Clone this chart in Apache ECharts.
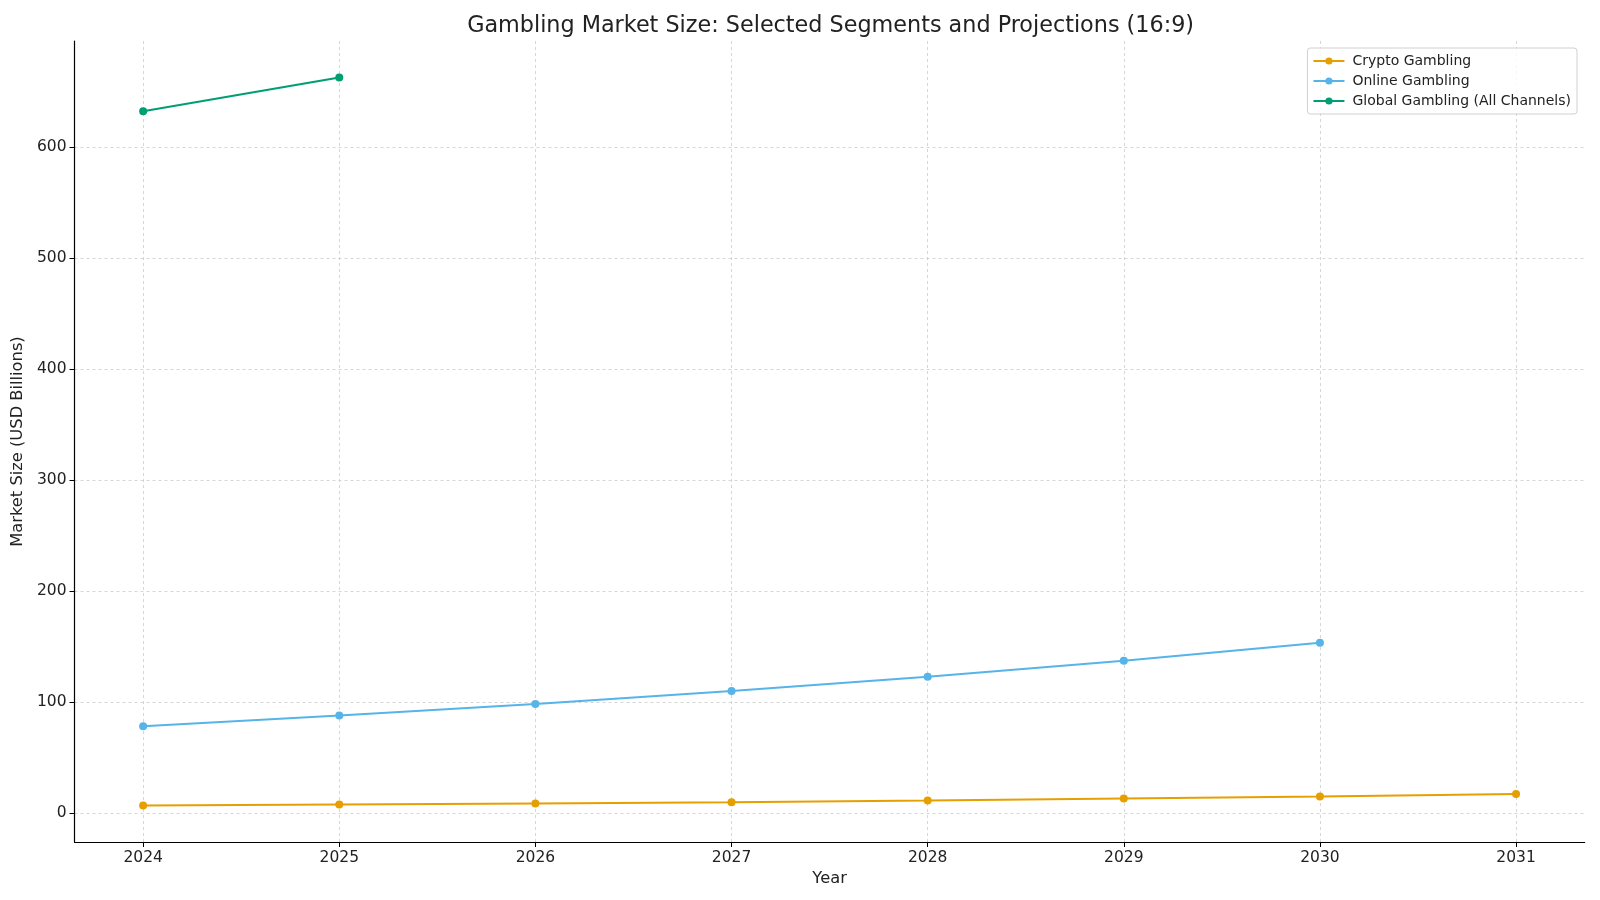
<!DOCTYPE html>
<html>
<head>
<meta charset="utf-8">
<title>Gambling Market Size</title>
<script src="https://cdn.jsdelivr.net/npm/echarts@6/dist/echarts.min.js"></script>
<style>
  html, body { margin: 0; padding: 0; background: #fff; }
  #main { width: 1600px; height: 900px; }
</style>
</head>
<body>
<div id="main"></div>
<script>
// values (USD billions)
var cryptoYears = [2024, 2025, 2026, 2027, 2028, 2029, 2030, 2031]
var cryptoValues = [6.6, 7.5, 8.4, 9.6, 11.1, 12.9, 14.7, 17.1]
var onlineYears = [2024, 2025, 2026, 2027, 2028, 2029, 2030]
var onlineValues = [78.0, 87.7, 98.2, 109.9, 122.8, 137.2, 153.4]
var globalYears = [2024, 2025]
var globalValues = [632.2, 662.8]
var xTicks = [2024, 2025, 2026, 2027, 2028, 2029, 2030, 2031]
var yTicks = [0, 100, 200, 300, 400, 500, 600]

function pairs(xs, ys) {
  var out = []
  for (var i = 0; i < xs.length; i++) {
    out.push([xs[i], ys[i]])
  }
  return out
}

var font = 'DejaVu Sans'
var chart = echarts.init(document.getElementById('main'), null, { renderer: 'canvas' })

function lineSeries(name, color, data) {
  return {
    name: name,
    type: 'line',
    data: data,
    symbol: 'circle',
    symbolSize: 8,
    showSymbol: true,
    lineStyle: { color: color, width: 2 },
    itemStyle: { color: color },
    emphasis: { disabled: true },
    animation: false
  }
}

var option = {
  backgroundColor: '#ffffff',
  animation: false,
  textStyle: { fontFamily: font },
  title: {
    text: 'Gambling Market Size: Selected Segments and Projections (16:9)',
    left: 825.6,
    textAlign: 'center',
    top: 10,
    textStyle: { fontFamily: font, fontSize: 22.3, fontWeight: 'normal', color: '#222' }
  },
  legend: {
    orient: 'vertical',
    right: 23,
    top: 48,
    itemWidth: 31,
    itemHeight: 9,
    itemGap: 6,
    padding: [6, 6, 6, 5],
    borderColor: '#d0d0d0',
    borderWidth: 1,
    borderRadius: 3,
    backgroundColor: 'rgba(255,255,255,0.8)',
    textStyle: { fontFamily: font, fontSize: 14, color: '#222', padding: [0, 0, 0, 3] },
    data: ['Crypto Gambling', 'Online Gambling', 'Global Gambling (All Channels)']
  },
  grid: {
    left: 74.5,
    right: 15.3,
    top: 41,
    bottom: 58,
    containLabel: false
  },
  xAxis: {
    type: 'value',
    min: 2023.65,
    max: 2031.35,
    name: 'Year',
    nameLocation: 'middle',
    nameGap: 22,
    nameTextStyle: { fontFamily: font, fontSize: 16.3, color: '#222' },
    axisLine: { show: true, onZero: false, lineStyle: { color: '#000', width: 1.2 } },
    axisTick: { show: true, inside: false, length: 5, customValues: xTicks, lineStyle: { color: '#000' } },
    axisLabel: { customValues: xTicks, margin: 8, fontFamily: font, fontSize: 15.5, color: '#222', formatter: function (v) { return String(v) } },
    splitLine: { show: true, lineStyle: { color: '#cccccc', type: [3, 3], width: 0.8 } }
  },
  yAxis: {
    type: 'value',
    min: -26.2,
    max: 695.6,
    name: 'Market Size (USD Billions)',
    nameLocation: 'middle',
    nameGap: 38,
    nameTextStyle: { fontFamily: font, fontSize: 16.3, color: '#222' },
    axisLine: { show: true, onZero: false, lineStyle: { color: '#000', width: 1.2 } },
    axisTick: { show: true, inside: false, length: 5, customValues: yTicks, lineStyle: { color: '#000' } },
    axisLabel: { customValues: yTicks, margin: 8, fontFamily: font, fontSize: 15.5, color: '#222' },
    splitLine: { show: true, lineStyle: { color: '#cccccc', type: [3, 3], width: 0.8 } }
  },
  series: [
    lineSeries('Crypto Gambling', '#E69F00', pairs(cryptoYears, cryptoValues)),
    lineSeries('Online Gambling', '#56B4E9', pairs(onlineYears, onlineValues)),
    lineSeries('Global Gambling (All Channels)', '#009E73', pairs(globalYears, globalValues))
  ]
}

chart.setOption(option)
</script>
</body>
</html>
